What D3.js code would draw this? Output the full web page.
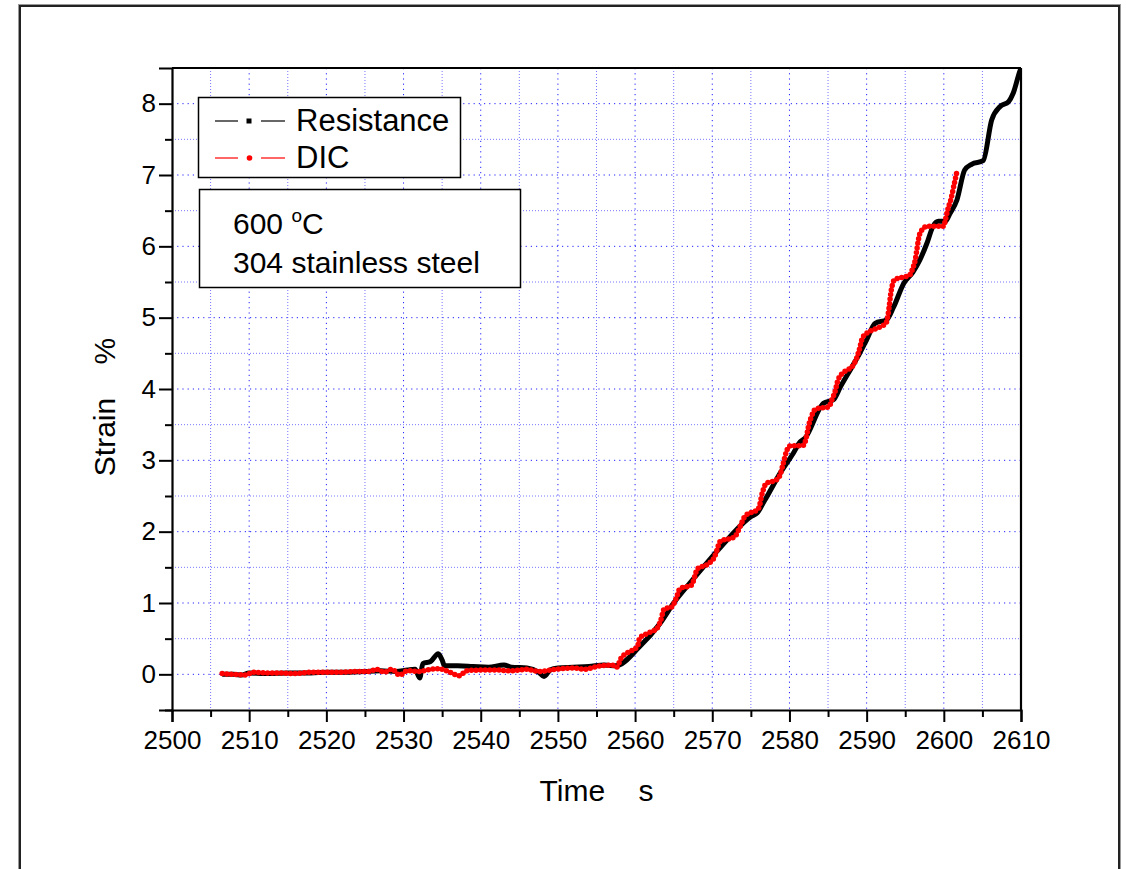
<!DOCTYPE html>
<html><head><meta charset="utf-8">
<script src="https://cdn.jsdelivr.net/npm/d3@7"></script>
<style>
html,body{margin:0;padding:0;background:#fff;}
svg{display:block;font-family:"Liberation Sans",Arial,sans-serif;}
</style></head>
<body>
<svg id="chart" width="1127" height="869"></svg>
<script>
// ---- data ----
const resistanceTime = [2506.5,2508,2509,2510,2512,2515,2518,2520,2523,2525,2527,2529,2530.5,2531.5,2532.1,2532.5,2533.5,2534.5,2535,2535.3,2537,2539,2541,2543,2544,2546,2547.5,2548.2,2549,2550,2552,2554,2556,2557.5,2560.6,2563.2,2565,2567.1,2570,2572.3,2575,2575.8,2576.8,2578.8,2580.5,2581.4,2582.0,2584.4,2585.7,2586.6,2588.1,2589.1,2590.0,2591.1,2592.6,2593.5,2594.8,2596.0,2596.9,2597.8,2598.6,2599.3,2600.2,2600.8,2601.7,2602.7,2603.6,2605.1,2606.2,2607.3,2608.4,2609.0,2609.9,2610.1];
const resistanceStrain = [0.00,0.00,-0.01,0.02,0.01,0.02,0.02,0.03,0.03,0.04,0.05,0.04,0.06,0.07,-0.05,0.15,0.18,0.29,0.20,0.12,0.12,0.11,0.10,0.13,0.10,0.09,0.03,-0.03,0.06,0.09,0.10,0.11,0.13,0.12,0.39,0.71,1.00,1.28,1.65,1.93,2.21,2.26,2.44,2.82,3.10,3.26,3.31,3.80,3.85,4.03,4.31,4.50,4.69,4.92,4.97,5.15,5.48,5.64,5.81,6.04,6.28,6.35,6.35,6.46,6.65,7.07,7.15,7.20,7.77,7.96,8.03,8.15,8.47,8.52];

const dicTime = [2506.5,2508,2509.5,2510.5,2512,2514,2516,2518,2520,2522,2524,2525.5,2526.5,2527.5,2528.5,2529.5,2530.5,2532,2533,2534.5,2536,2537.2,2538.2,2540,2542,2544,2546,2547.5,2549,2550.5,2552,2553.5,2555,2557,2557.6,2558.2,2559,2560.3,2560.6,2561.5,2562.8,2563.3,2563.8,2564.7,2565.4,2565.8,2567.3,2568.1,2569.5,2570.3,2570.6,2571,2572.9,2573.6,2574.2,2576,2576.5,2577,2578.2,2578.8,2579.2,2579.6,2580,2581.8,2582.7,2583.4,2585.1,2585.5,2585.9,2586.3,2587.2,2588.1,2588.7,2589.1,2589.5,2591.7,2592.5,2592.8,2593.2,2593.6,2595.6,2596,2596.3,2596.5,2596.9,2597.8,2600,2600.2,2600.6,2600.9,2601.3,2601.7];
const dicStrain = [0.01,0.00,-0.01,0.03,0.02,0.02,0.01,0.03,0.03,0.03,0.04,0.04,0.07,0.03,0.07,-0.01,0.05,0.04,0.06,0.08,0.03,-0.02,0.05,0.06,0.06,0.05,0.07,0.04,0.06,0.08,0.09,0.07,0.11,0.13,0.10,0.23,0.30,0.39,0.51,0.57,0.64,0.75,0.92,0.94,1.09,1.20,1.25,1.48,1.55,1.65,1.74,1.86,1.93,2.07,2.21,2.33,2.55,2.68,2.72,2.80,2.96,3.12,3.20,3.21,3.57,3.72,3.75,3.85,3.96,4.13,4.25,4.31,4.43,4.57,4.73,4.87,4.92,5.06,5.39,5.53,5.60,5.70,5.81,5.95,6.18,6.28,6.28,6.37,6.55,6.65,6.85,7.05];

const xMajorTicks = [2500,2510,2520,2530,2540,2550,2560,2570,2580,2590,2600,2610];
const xMinorTicks = [2505,2515,2525,2535,2545,2555,2565,2575,2585,2595,2605];
const yMajorTicks = [0,1,2,3,4,5,6,7,8];
const yMinorTicks = [-0.5,0.5,1.5,2.5,3.5,4.5,5.5,6.5,7.5];
const seriesNames = ["Resistance","DIC"];
const xTitle = "Time    s";
const yTitle = "Strain    %";
const noteLine1 = "600 ";
const noteLine2 = "304 stainless steel";

// ---- layout ----
const svg = d3.select("#chart");
const L = 172, R = 1021, T = 68, B = 710;
const x = d3.scaleLinear().domain([2500,2610]).range([L,R]);
const y = d3.scaleLinear().domain([-0.5,8.5]).range([B,T]);

// outer frame
svg.append("rect").attr("x",18.5).attr("y",4.5).attr("width",1102).attr("height",880)
  .attr("fill","none").attr("stroke","#999").attr("stroke-width",1);
svg.append("rect").attr("x",20).attr("y",6).attr("width",1099).attr("height",880)
  .attr("fill","none").attr("stroke","#222").attr("stroke-width",2);

// grid
const grid = svg.append("g");
xMinorTicks.forEach(v=>grid.append("line").attr("x1",x(v)).attr("x2",x(v)).attr("y1",T).attr("y2",B)
  .attr("stroke","#7777ff").attr("stroke-width",1).attr("stroke-dasharray","1,2"));
xMajorTicks.slice(1,-1).forEach(v=>grid.append("line").attr("x1",x(v)).attr("x2",x(v)).attr("y1",T).attr("y2",B)
  .attr("stroke","#2222ff").attr("stroke-width",1).attr("stroke-dasharray","1.2,4"));
yMinorTicks.slice(1).forEach(v=>grid.append("line").attr("x1",L).attr("x2",R).attr("y1",y(v)).attr("y2",y(v))
  .attr("stroke","#7777ff").attr("stroke-width",1).attr("stroke-dasharray","1,2"));
yMajorTicks.forEach(v=>grid.append("line").attr("x1",L).attr("x2",R).attr("y1",y(v)).attr("y2",y(v))
  .attr("stroke","#2222ff").attr("stroke-width",1).attr("stroke-dasharray","1.2,4"));

// data
svg.append("clipPath").attr("id","pc").append("rect")
  .attr("x",L).attr("y",T).attr("width",R-L).attr("height",B-T);
const resData = resistanceTime.map((t,i)=>[t,resistanceStrain[i]]);
const dicData = dicTime.map((t,i)=>[t,dicStrain[i]]);
const line = d3.line().x(d=>x(d[0])).y(d=>y(d[1])).curve(d3.curveMonotoneX);
const dg = svg.append("g").attr("clip-path","url(#pc)");
dg.append("path").attr("d",line(resData)).attr("fill","none").attr("stroke","#000")
  .attr("stroke-width",5).attr("stroke-linejoin","round");
dg.append("path").attr("d",line(dicData)).attr("fill","none").attr("stroke","#ff0000").attr("stroke-width",1);
dg.append("path").attr("d",line(dicData)).attr("fill","none").attr("stroke","#ff0000")
  .attr("stroke-width",5.5).attr("stroke-linecap","round").attr("stroke-dasharray","0,4.6");

// frame lines top/right
svg.append("line").attr("x1",L).attr("x2",R).attr("y1",T).attr("y2",T).attr("stroke","#000").attr("stroke-width",2.2);
svg.append("line").attr("x1",R).attr("x2",R).attr("y1",T).attr("y2",B).attr("stroke","#000").attr("stroke-width",2.2);

// axes
const font = 26;
const xAx = svg.append("g").attr("transform",`translate(0,${B})`)
  .call(d3.axisBottom(x).tickValues(xMajorTicks).tickSize(12).tickPadding(9).tickFormat(d3.format("d")));
const xAxMin = svg.append("g").attr("transform",`translate(0,${B})`)
  .call(d3.axisBottom(x).tickValues(xMinorTicks).tickSize(7).tickFormat(""));
const yAx = svg.append("g").attr("transform",`translate(${L},0)`)
  .call(d3.axisLeft(y).tickValues(yMajorTicks).tickSize(13).tickPadding(3).tickFormat(d3.format("d")));
const yAxMin = svg.append("g").attr("transform",`translate(${L},0)`)
  .call(d3.axisLeft(y).tickValues(yMinorTicks).tickSize(7).tickFormat(""));
[xAx,xAxMin,yAx,yAxMin].forEach(g=>{
  g.select(".domain").attr("stroke","#000").attr("stroke-width",2.2);
  g.selectAll(".tick line").attr("stroke","#000").attr("stroke-width",2);
  g.selectAll("text").attr("font-size",font).attr("fill","#000").attr("font-family","Liberation Sans, Arial, sans-serif");
});
xAxMin.select(".domain").remove(); yAxMin.select(".domain").remove();

// axis titles
svg.append("text").attr("x",(L+R)/2).attr("y",801).attr("text-anchor","middle")
  .attr("font-size",30).style("white-space","pre").text(xTitle);
svg.append("text").attr("transform",`translate(115,${(T+B)/2+18}) rotate(-90)`).attr("text-anchor","middle")
  .attr("font-size",30).style("white-space","pre").text(yTitle);

// legend
const lg = svg.append("g");
lg.append("rect").attr("x",198.5).attr("y",97.5).attr("width",262).attr("height",80)
  .attr("fill","#fff").attr("stroke","#000").attr("stroke-width",1.5);
const legY = [121,158], legC = ["#000","#ff0000"];
seriesNames.forEach((n,i)=>{
  lg.append("line").attr("x1",215).attr("x2",238).attr("y1",legY[i]).attr("y2",legY[i]).attr("stroke",legC[i]).attr("stroke-width",1.2);
  lg.append("line").attr("x1",261).attr("x2",285).attr("y1",legY[i]).attr("y2",legY[i]).attr("stroke",legC[i]).attr("stroke-width",1.2);
  if(i===0) lg.append("rect").attr("x",246.5).attr("y",legY[i]-2.5).attr("width",5).attr("height",5).attr("fill","#000");
  else lg.append("circle").attr("cx",249.5).attr("cy",legY[i]).attr("r",2.8).attr("fill","#ff0000");
  lg.append("text").attr("x",296).attr("y",legY[i]+10).attr("font-size",31).text(n);
});

// note box
const nb = svg.append("g");
nb.append("rect").attr("x",199.5).attr("y",189.5).attr("width",321).attr("height",98)
  .attr("fill","#fff").attr("stroke","#000").attr("stroke-width",1.5);
const t1 = nb.append("text").attr("x",233).attr("y",234).attr("font-size",30).style("white-space","pre");
t1.append("tspan").text(noteLine1);
t1.append("tspan").attr("font-size",19).attr("dy",-12).text("o");
t1.append("tspan").attr("dy",12).text("C");
nb.append("text").attr("x",233).attr("y",273).attr("font-size",30).text(noteLine2);
</script>
</body></html>
